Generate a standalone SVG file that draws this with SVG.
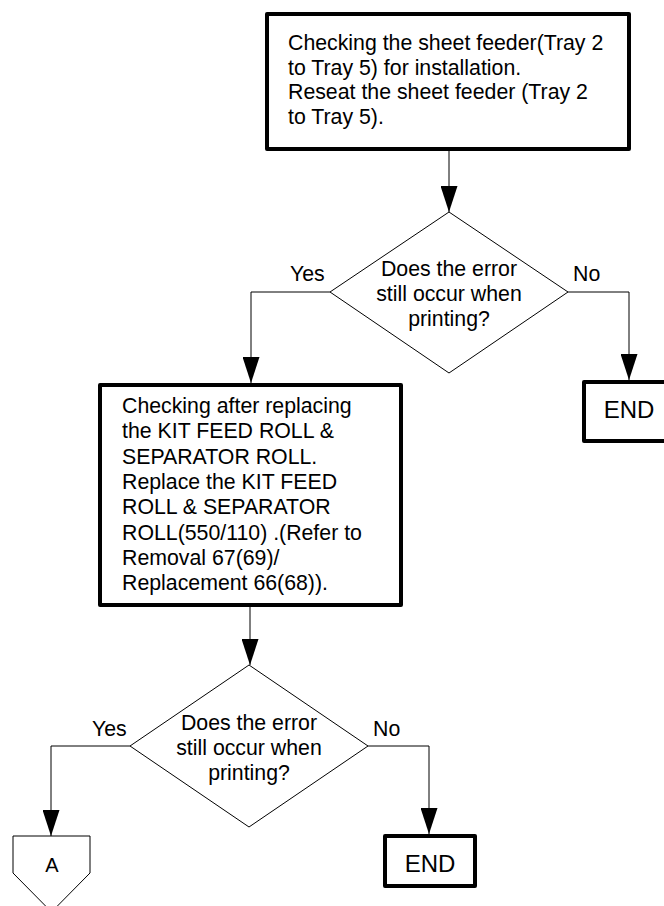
<svg xmlns="http://www.w3.org/2000/svg" width="664" height="906" viewBox="0 0 664 906">
<defs>
<marker id="arr" markerUnits="userSpaceOnUse" markerWidth="26" markerHeight="17" refX="26" refY="8.5" orient="auto">
<path d="M0,0 L26,8.5 L0,17 z" fill="#000"/>
</marker>
<style>
.box{fill:#fff;stroke:#000;stroke-width:4;stroke-linejoin:round}
.dia{fill:#fff;stroke:#000;stroke-width:1}
.con{fill:#fff;stroke:#000;stroke-width:1}
.ln{fill:none;stroke:#000;stroke-width:1;marker-end:url(#arr)}
text{font-family:"Liberation Sans",Arial,sans-serif;font-size:21.3px;fill:#000}
.c{text-anchor:middle}
.end{font-size:24px}
.a{font-size:20px}
</style>
</defs>
<rect width="664" height="906" fill="#fff"/>
<g id="connectors">
<path class="ln" d="M449,151 L449,212"/>
<path class="ln" d="M330,292 L251,292 L251,383"/>
<path class="ln" d="M568,292 L629,292 L629,380"/>
<path class="ln" d="M250,607 L250,665"/>
<path class="ln" d="M130,746 L51,746 L51,836"/>
<path class="ln" d="M368,746 L429,746 L429,834"/>
</g>
<g id="box1">
<rect class="box" x="267" y="14" width="362" height="135"/>
<text x="288" y="50">Checking the sheet feeder(Tray 2</text>
<text x="288" y="74.5">to Tray 5) for installation.</text>
<text x="288" y="99">Reseat the sheet feeder (Tray 2</text>
<text x="288" y="124">to Tray 5).</text>
</g>
<g id="decision1">
<polygon class="dia" points="449,212 568,292 449,373 330,292"/>
<text class="c" x="449" y="276">Does the error</text>
<text class="c" x="449" y="301">still occur when</text>
<text class="c" x="449" y="326">printing?</text>
<text x="290" y="281">Yes</text>
<text x="573" y="281">No</text>
</g>
<g id="end1">
<rect class="box" x="584" y="382" width="90" height="59"/>
<text class="c end" x="629" y="418">END</text>
</g>
<g id="box2">
<rect class="box" x="100" y="385" width="301" height="220"/>
<text x="122" y="413">Checking after replacing</text>
<text x="122" y="438">the KIT FEED ROLL &amp;</text>
<text x="122" y="463.5">SEPARATOR ROLL.</text>
<text x="122" y="489">Replace the KIT FEED</text>
<text x="122" y="514">ROLL &amp; SEPARATOR</text>
<text x="122" y="539.5">ROLL(550/110) .(Refer to</text>
<text x="122" y="565">Removal 67(69)/</text>
<text x="122" y="590">Replacement 66(68)).</text>
</g>
<g id="decision2">
<polygon class="dia" points="249,665 368,746 249,827 130,746"/>
<text class="c" x="249" y="730">Does the error</text>
<text class="c" x="249" y="755">still occur when</text>
<text class="c" x="249" y="780">printing?</text>
<text x="92" y="736">Yes</text>
<text x="373" y="736">No</text>
</g>
<g id="end2">
<rect class="box" x="385" y="836" width="90" height="50"/>
<text class="c end" x="430" y="872">END</text>
</g>
<g id="connectorA">
<polygon class="con" points="13,836 90,836 90,873 51.5,912 13,873"/>
<text class="c a" x="52" y="872">A</text>
</g>
</svg>
